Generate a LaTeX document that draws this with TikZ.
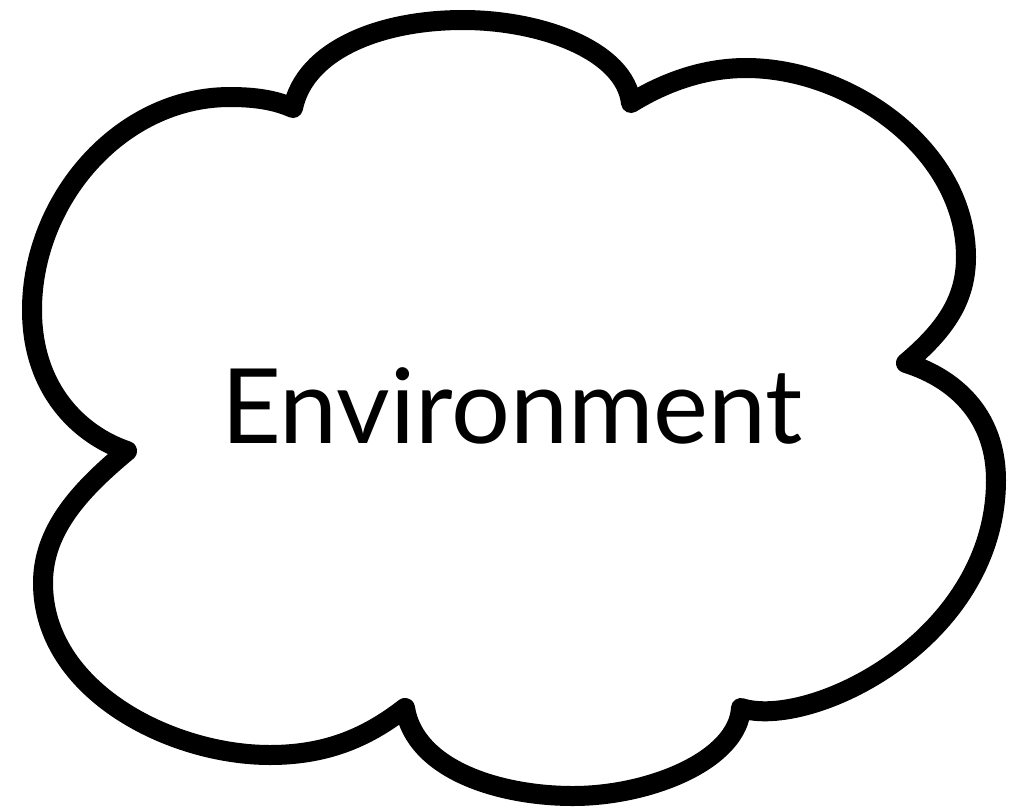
\documentclass[tikz,border=0pt]{standalone}
\usepackage{fontspec}
\setmainfont{Lato}
\begin{document}
\begin{tikzpicture}[x=1pt,y=-1pt,
  cloudline/.style={line width=20pt,line join=round,draw=black},
  label/.style={font=\fontsize{104}{120}\selectfont,inner sep=0pt,anchor=base}]
\useasboundingbox (0,0) rectangle (1013,807);
\coordinate (A) at (293,108);
\coordinate (B) at (631,103);
\coordinate (C) at (906,363);
\coordinate (D) at (741,708);
\coordinate (E) at (405,708);
\coordinate (F) at (127,451);
\draw[cloudline] (A)
  .. controls (275,100) and (255,97) .. (230,97)
  .. controls (120,97) and (32,200) .. (32,310)
  .. controls (32,390) and (80,435) .. (F)
  .. controls (80,490) and (43,530) .. (43,583)
  .. controls (43,690) and (170,755) .. (270,755)
  .. controls (330,755) and (370,735) .. (E)
  .. controls (415,770) and (500,796) .. (573,796)
  .. controls (650,796) and (738,760) .. (D)
  .. controls (810,730) and (996,640) .. (996,480)
  .. controls (996,420) and (960,380) .. (C)
  .. controls (945,330) and (966,300) .. (966,257)
  .. controls (966,150) and (850,68) .. (746,68)
  .. controls (700,68) and (660,85) .. (B)
  .. controls (625,50) and (540,20) .. (463,20)
  .. controls (380,20) and (305,50) .. (A) -- cycle;
\node[label] (env) at (512,443) {Environment};
\end{tikzpicture}
\end{document}
